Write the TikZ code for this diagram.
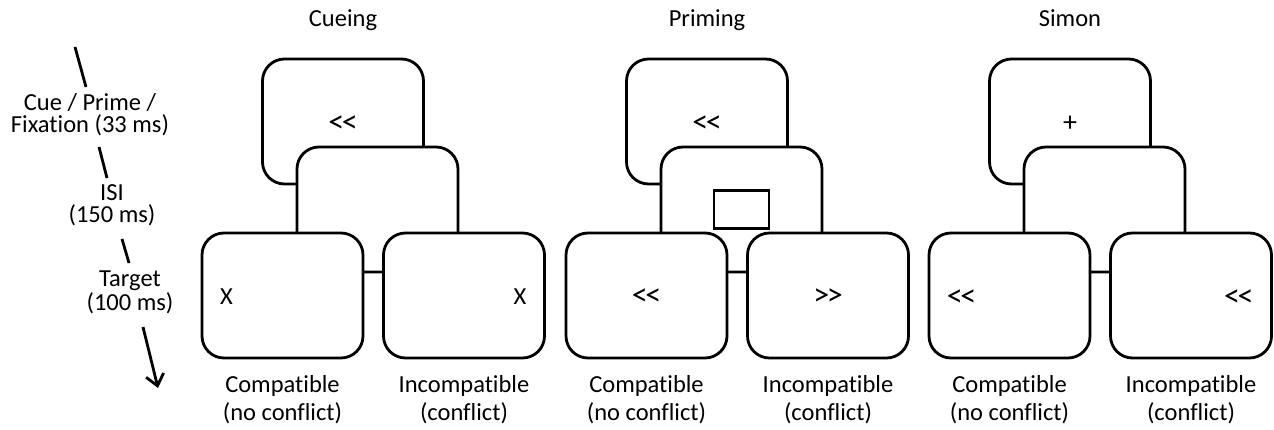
\documentclass[tikz,border=0pt]{standalone}
\usepackage{fontspec}
\setmainfont{Carlito}[Ligatures={TeXOff,NoCommon}]
\usetikzlibrary{arrows.meta}
\newcommand{\dblt}{<\kern-2.5pt<}
\newcommand{\dbgt}{>\kern-2.5pt>}
\begin{document}
\begin{tikzpicture}[x=1pt,y=-1pt,
  every node/.style={font=\fontsize{24.5}{28}\selectfont, inner sep=0pt},
  screen/.style={draw, line width=2.8pt, fill=white, rounded corners=22pt,
    minimum width=161pt, minimum height=125pt},
  blank/.style={draw, line width=2.8pt, fill=white, minimum width=55pt, minimum height=38pt},
  sym/.style={font=\fontsize{32}{32}\selectfont},
  ttl/.style={anchor=base},
  lab/.style={anchor=base, align=center, font=\fontsize{24.5}{28}\selectfont},
  tlab/.style={anchor=base, align=center, font=\fontsize{24.5}{22}\selectfont},
  tline/.style={line width=2.8pt},
]
\useasboundingbox (0,0) rectangle (1274,430);

% ---------- timeline ----------
\coordinate (a1) at (75,47);   \coordinate (a2) at (86,87);
\coordinate (b1) at (99,147);  \coordinate (b2) at (107,178);
\coordinate (c1) at (122,239); \coordinate (c2) at (129,263);
\coordinate (d1) at (143,327); \coordinate (d2) at (158,388);
\draw[tline] (a1) -- (a2);
\draw[tline] (b1) -- (b2);
\draw[tline] (c1) -- (c2);
\draw[tline, -{Straight Barb[length=11pt,width=18pt,line width=2.8pt]}] (d1) -- (d2);
\node[tlab] (lcue) at (90,133) {Cue / Prime /\\Fixation (33 ms)};
\node[tlab] (lisi) at (112,223) {ISI\\(150 ms)};
\node[tlab] (ltar) at (130,310) {Target\\(100 ms)};

% ---------- Cueing ----------
\node[screen] (cue1) at (343,121.5) {};
\node[screen] (isi1) at (377.5,209.5) {};
\node[screen] (tl1) at (282.5,295.5) {};
\node[screen] (tr1) at (464,295.5) {};
\node[ttl] (t1) at (cue1.center |- 0,27) {Cueing};
\node[sym] (cue1t) at ([yshift=-2.5pt]cue1.center) {\dblt};
\node (tl1t) at ([xshift=26pt,yshift=-1.5pt]tl1.west) {X};
\node (tr1t) at ([xshift=-26pt,yshift=-1.5pt]tr1.east) {X};
\node[lab] (tl1l) at (tl1.center |- 0,420) {Compatible\\(no conflict)};
\node[lab] (tr1l) at (tr1.center |- 0,420) {Incompatible\\(conflict)};

% ---------- Priming ----------
\node[screen] (cue2) at (707,121.5) {};
\node[screen] (isi2) at (741.5,209.5) {};
\node[blank] (box2) at (isi2.center) {};
\node[screen] (tl2) at (646.5,295.5) {};
\node[screen] (tr2) at (828,295.5) {};
\node[ttl] (t2) at (cue2.center |- 0,27) {Priming};
\node[sym] (cue2t) at ([yshift=-2.5pt]cue2.center) {\dblt};
\node[sym] (tl2t) at ([yshift=-1.5pt]tl2.center) {\dblt};
\node[sym] (tr2t) at ([yshift=-1.5pt]tr2.center) {\dbgt};
\node[lab] (tl2l) at (tl2.center |- 0,420) {Compatible\\(no conflict)};
\node[lab] (tr2l) at (tr2.center |- 0,420) {Incompatible\\(conflict)};

% ---------- Simon ----------
\node[screen] (cue3) at (1070,121.5) {};
\node[screen] (isi3) at (1104.5,209.5) {};
\node[screen] (tl3) at (1009.5,295.5) {};
\node[screen] (tr3) at (1191,295.5) {};
\node[ttl] (t3) at (cue3.center |- 0,27) {Simon};
\node[font=\fontsize{28}{28}\selectfont] (cue3t) at ([yshift=-2.5pt]cue3.center) {+};
\node[sym] (tl3t) at ([xshift=34pt,yshift=-2.5pt]tl3.west) {\dblt};
\node[sym] (tr3t) at ([xshift=-34pt,yshift=-2.5pt]tr3.east) {\dblt};
\node[lab] (tl3l) at (tl3.center |- 0,420) {Compatible\\(no conflict)};
\node[lab] (tr3l) at (tr3.center |- 0,420) {Incompatible\\(conflict)};
\end{tikzpicture}
\end{document}
